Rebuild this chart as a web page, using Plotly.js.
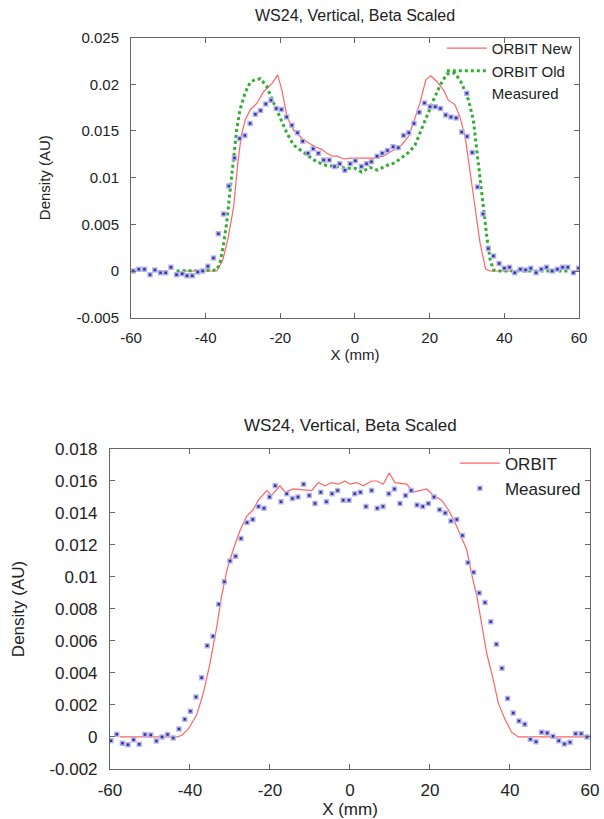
<!DOCTYPE html>
<html>
<head>
<meta charset="utf-8">
<script src="https://cdn.plot.ly/plotly-3.0.1.min.js"></script>
<style>html,body{margin:0;padding:0;background:#fff;}#chart{width:604px;height:819px;}</style>
</head>
<body>
<div id="chart"></div>
<script>
// ---------- Top panel data ----------
const topMeasuredX = [-59.4,-57.9,-56.4,-54.9,-53.6,-52.1,-50.7,-49.3,-47.8,-46.3,-45.0,-43.6,-42.1,-40.8,-39.4,-37.9,-36.6,-35.2,-33.8,-32.3,-30.9,-29.5,-28.1,-26.7,-25.3,-23.9,-22.5,-21.1,-19.7,-18.3,-16.9,-15.4,-14.0,-12.6,-11.2,-9.8,-8.4,-6.9,-5.5,-4.1,-2.7,-1.3,0.1,
  1.7,3.1,4.4,5.9,7.3,8.7,10.2,11.6,13.0,14.4,15.8,17.2,18.6,20.1,21.5,22.9,24.3,25.7,27.1,28.6,30.0,31.4,32.8,34.3,35.7,37.1,38.6,40.0,41.4,42.8,44.3,45.7,47.1,48.5,49.9,51.3,52.8,54.2,55.6,57.0,58.5,59.9];
const topMeasuredY = [0,0.0002,0.0002,-0.0004,0.0001,-0.0002,-0.0002,0.0004,-0.0004,-0.0003,-0.0005,-0.0005,-0.0001,0,0.0005,0.0014,0.004,0.0061,0.0091,0.0121,0.0142,0.0145,0.0158,0.0168,0.0172,0.0179,0.0183,0.0174,0.0173,0.0165,0.0156,0.0148,0.0139,0.0126,0.0131,0.0126,0.0119,0.0119,0.0112,0.0115,0.0108,0.0115,0.0118,
  0.0112,0.0115,0.0117,0.0123,0.0126,0.0129,0.0133,0.0132,0.0145,0.0148,0.0158,0.0170,0.0180,0.0176,0.0176,0.0174,0.0167,0.0165,0.0164,0.0149,0.0144,0.0127,0.0090,0.0061,0.0024,0.0016,0.0008,0.0003,0.0004,-0.0002,0.0002,0.0001,0.0003,-0.0002,0.0002,0.0004,0,0.0002,0.0004,0.0004,-0.0002,0.0003];

const orbitNewX = [-46,-37.0,-35.4,-34.0,-32.5,-31.4,-30.5,-29.4,-28.0,-26.2,-24.5,-22.2,-20.7,-19.6,-18.2,-16.4,-14.2,-12.4,-10.6,-8.8,-7.5,-6.1,-4.8,-3.0,-1.2,0.6,4.9,7.6,10.3,12.5,14.3,15.6,17.4,19.0,20.3,21.9,23.7,25.0,26.8,28.1,29.5,30.8,32.1,33.5,35.0,36.2,47];
const orbitNewY = [0,0,0.0012,0.0035,0.0069,0.0115,0.0144,0.0162,0.0173,0.018,0.0192,0.0201,0.021,0.0194,0.0165,0.0151,0.0142,0.0137,0.0133,0.013,0.0126,0.0123,0.0123,0.012,0.0121,0.0121,0.0121,0.0123,0.013,0.0135,0.0144,0.0158,0.018,0.0205,0.0209,0.0203,0.0194,0.0183,0.0178,0.0165,0.0144,0.0108,0.0069,0.003,0.0002,0,0];

const orbitOldX = [-47.8,-37.1,-36.2,-35.3,-34.4,-33.5,-32.6,-31.7,-30.8,-29.5,-28.1,-26.8,-25.3,-23.7,-21.9,-20.1,-18.3,-16.5,-14.7,-12.5,-10.3,-7.6,-4.9,-2.3,0.0,1.8,4.0,6.0,8.5,10.7,12.9,14.7,16.1,17.4,19.2,21.0,22.8,24.6,26.8,28.6,30.4,31.7,32.6,33.5,34.4,35.3,36.2,37.1,38.8,57.5];
const orbitOldY = [0,0.0001,0.0008,0.0026,0.0051,0.0083,0.0122,0.0151,0.0173,0.019,0.0202,0.0205,0.0206,0.0198,0.0181,0.0165,0.0148,0.0135,0.013,0.0123,0.0117,0.0113,0.0112,0.011,0.011,0.0106,0.0111,0.0108,0.0113,0.0116,0.0123,0.0128,0.0135,0.0148,0.0165,0.0183,0.0199,0.0211,0.0212,0.0201,0.0183,0.0162,0.013,0.0098,0.0065,0.0037,0.0012,0.0001,0,0];

// ---------- Bottom panel data ----------
const botMeasuredX = [-59.75,-58.3,-56.9,-55.5,-54.1,-52.7,-51.25,-49.8,-48.4,-47.0,-45.6,-44.2,-42.75,-41.3,-39.9,-38.5,-37.1,-35.7,-34.25,-32.8,-31.4,-30.0,-28.6,-27.25,-25.75,-24.3,-22.9,-21.5,-20.1,-18.7,-17.25,-15.8,-14.4,-13.0,-11.6,-10.2,-8.75,-7.3,-5.9,-4.5,-3.1,-1.7,-0.25,
  1.2,2.6,4.0,5.4,6.8,8.25,9.7,11.1,12.5,13.9,15.3,16.75,18.2,19.6,21.0,22.4,23.8,25.25,26.7,28.1,29.5,30.9,32.3,33.75,35.2,36.6,38.0,39.4,40.8,42.25,43.7,45.1,46.5,47.9,49.3,50.75,52.2,53.6,55.0,56.4,57.8,59.25];
const botMeasuredY = [-0.00023,0.00017,-0.0004,-0.00048,-0.00017,-0.00046,0.00015,0.00012,-0.00025,0,0.00015,-0.00006,0.0005,0.0011,0.0016,0.0025,0.0037,0.0057,0.0063,0.0083,0.0097,0.011,0.0113,0.0124,0.0134,0.0136,0.0144,0.0143,0.015,0.0157,0.0147,0.0152,0.0149,0.015,0.0158,0.0151,0.0146,0.0153,0.0147,0.0152,0.0154,0.0148,0.0148,
  0.0152,0.0153,0.0144,0.0154,0.0143,0.0144,0.0152,0.0155,0.0146,0.0151,0.0154,0.0145,0.0144,0.0146,0.015,0.0142,0.014,0.0135,0.0136,0.0126,0.0109,0.0103,0.009,0.0084,0.0072,0.0058,0.0043,0.0024,0.0015,0.001,0.0008,-0.00015,-0.0003,0.0003,0.00025,0.00004,-0.00023,-0.00044,-0.00033,0.0002,0.0002,0];

const orbitX = [-57.5,-43.3,-42.1,-40.4,-38.3,-36.7,-35.0,-33.3,-32.1,-30.8,-29.2,-27.5,-25.8,-24.2,-22.9,-20.8,-19.6,-17.5,-16.25,-14.2,-9.6,-7.9,-6.25,-4.6,-2.9,-1.25,0,1.7,3.3,5.4,6.7,8.3,9.8,11.25,14.2,15.8,19.2,20.8,22.9,24.6,26.25,27.9,29.2,30.4,31.7,32.9,34.2,35.8,37.1,38.75,40.4,42.1,44.2,60];
const orbitY = [0,0,0.0001,0.0005,0.0014,0.0027,0.0046,0.0069,0.0088,0.0104,0.0117,0.0129,0.0138,0.0142,0.0148,0.0154,0.0151,0.0157,0.0153,0.0155,0.0154,0.0159,0.0157,0.0159,0.0158,0.016,0.0158,0.0159,0.0157,0.016,0.016,0.0158,0.0165,0.0159,0.0158,0.0153,0.0155,0.0151,0.0148,0.0142,0.0134,0.0125,0.0117,0.0102,0.0088,0.0071,0.0052,0.0036,0.0021,0.0011,0.0003,0,0,0];

// ---------- Tick labels ----------
const xTickVals = [-60,-40,-20,0,20,40,60];
const xTickText = ['-60','-40','-20','0','20','40','60'];
const topYTickVals = [-0.005,0,0.005,0.01,0.015,0.02,0.025];
const topYTickText = ['-0.005','0','0.005','0.01','0.015','0.02','0.025'];
const botYTickVals = [-0.002,0,0.002,0.004,0.006,0.008,0.01,0.012,0.014,0.016,0.018];
const botYTickText = ['-0.002','0','0.002','0.004','0.006','0.008','0.01','0.012','0.014','0.016','0.018'];

const chartTitle = 'WS24, Vertical, Beta Scaled';
const FONT = 'Liberation Sans, Arial, Helvetica, sans-serif';
const RED = '#ff6464', GREEN = '#2fae2f', BLUE = '#34349a';

const markerStyle = {symbol:'square', size:4, color:BLUE, line:{color:'rgba(180,180,235,0.95)', width:1.5}};

const traces = [
  {x:orbitNewX, y:orbitNewY, type:'scatter', mode:'lines', name:'ORBIT New', line:{color:RED, width:1.2}, xaxis:'x', yaxis:'y', legend:'legend'},
  {x:orbitOldX, y:orbitOldY, type:'scatter', mode:'lines', name:'ORBIT Old', line:{color:GREEN, width:3, dash:'dot'}, xaxis:'x', yaxis:'y', legend:'legend'},
  {x:topMeasuredX, y:topMeasuredY, type:'scatter', mode:'markers', name:'Measured', marker:markerStyle, xaxis:'x', yaxis:'y', legend:'legend'},
  {x:orbitX, y:orbitY, type:'scatter', mode:'lines', name:'ORBIT', line:{color:RED, width:1.2}, xaxis:'x2', yaxis:'y2', legend:'legend2'},
  {x:botMeasuredX, y:botMeasuredY, type:'scatter', mode:'markers', name:'Measured', marker:markerStyle, xaxis:'x2', yaxis:'y2', legend:'legend2'}
];

function axisBase(extra){
  return Object.assign({
    showline:true, linecolor:'#666', linewidth:1, mirror:'ticks',
    ticks:'inside', ticklen:5, tickcolor:'#666', tickwidth:1,
    showgrid:false, zeroline:false, automargin:false,
    tickfont:{family:FONT, color:'#222'}
  }, extra);
}

const layout = {
  width:604, height:819,
  margin:{l:0, r:0, t:0, b:0},
  paper_bgcolor:'#fff', plot_bgcolor:'#fff',
  font:{family:FONT, color:'#222'},
  showlegend:true,
  xaxis: axisBase({domain:[0.2169,0.9586], anchor:'y', range:[-60,60], tickvals:xTickVals, ticktext:xTickText,
    tickfont:{family:FONT, size:15, color:'#222'}, ticklabelstandoff:6,
    title:{text:'X (mm)', font:{family:FONT, size:15, color:'#222'}, standoff:4}}),
  yaxis: axisBase({domain:[0.6121,0.9541], anchor:'x', range:[-0.005,0.025], tickvals:topYTickVals, ticktext:topYTickText,
    tickfont:{family:FONT, size:15, color:'#222'}, ticklabelstandoff:8,
    title:{text:'Density (AU)', font:{family:FONT, size:15, color:'#222'}, standoff:22}}),
  xaxis2: axisBase({domain:[0.1821,0.9768], anchor:'y2', range:[-60,60], tickvals:xTickVals, ticktext:xTickText,
    tickfont:{family:FONT, size:17, color:'#222'}, ticklabelstandoff:6,
    title:{text:'X (mm)', font:{family:FONT, size:17, color:'#222'}, standoff:6}}),
  yaxis2: axisBase({domain:[0.0611,0.4518], anchor:'x2', range:[-0.002,0.018], tickvals:botYTickVals, ticktext:botYTickText,
    tickfont:{family:FONT, size:17, color:'#222'}, ticklabelstandoff:8,
    title:{text:'Density (AU)', font:{family:FONT, size:17, color:'#222'}, standoff:20}}),
  legend:{x:0.955, xanchor:'right', y:0.961, yanchor:'top', bgcolor:'rgba(0,0,0,0)', borderwidth:0,
    font:{family:FONT, size:15, color:'#222'}, tracegroupgap:0, itemwidth:40},
  legend2:{x:0.97, xanchor:'right', y:0.456, yanchor:'top', bgcolor:'rgba(0,0,0,0)', borderwidth:0,
    font:{family:FONT, size:17, color:'#222'}, tracegroupgap:0, itemwidth:40},
  annotations:[
    {text:chartTitle, xref:'paper', yref:'paper', x:0.5875, y:1-15/819, xanchor:'center', yanchor:'middle', showarrow:false, font:{family:FONT, size:16, color:'#222'}},
    {text:chartTitle, xref:'paper', yref:'paper', x:0.5795, y:1-425/819, xanchor:'center', yanchor:'middle', showarrow:false, font:{family:FONT, size:17, color:'#222'}}
  ]
};

Plotly.newPlot('chart', traces, layout, {displayModeBar:false, staticPlot:true});
</script>
</body>
</html>
